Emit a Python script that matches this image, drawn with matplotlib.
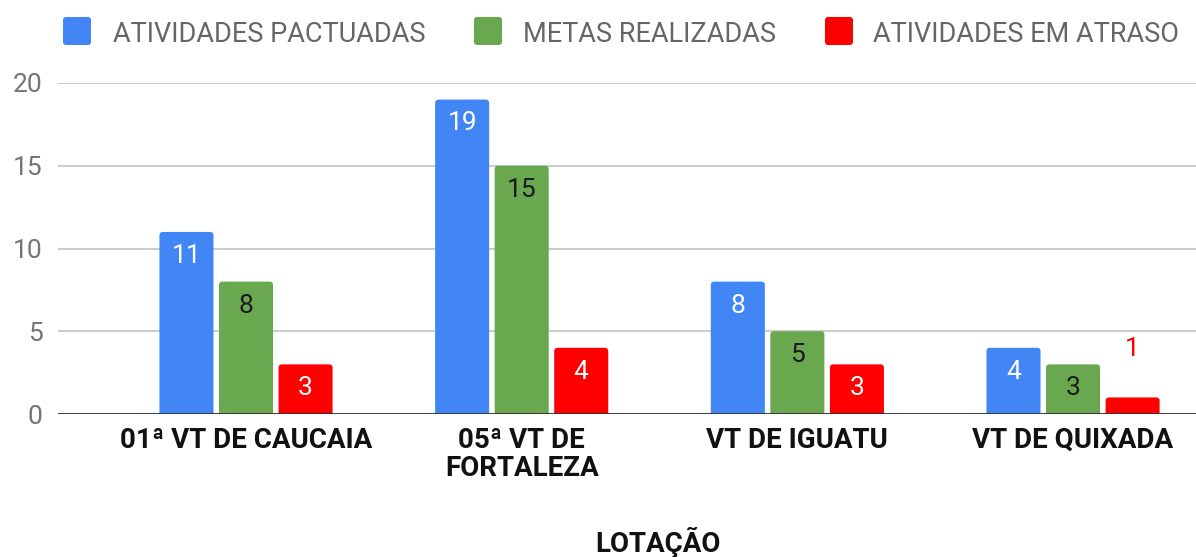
import matplotlib
matplotlib.use("Agg")
import matplotlib.pyplot as plt
from matplotlib.patches import FancyBboxPatch
import numpy as np

categories = ["01ª VT DE CAUCAIA", "05ª VT DE\nFORTALEZA", "VT DE IGUATU", "VT DE QUIXADA"]
series_names = ["ATIVIDADES PACTUADAS", "METAS REALIZADAS", "ATIVIDADES EM ATRASO"]
pactuadas = [11, 19, 8, 4]
realizadas = [8, 15, 5, 3]
atraso = [3, 4, 3, 1]
yticks = [0, 5, 10, 15, 20]

colors = ["#4285F4", "#6AA84F", "#FF0000"]
label_colors = ["white", "#1a1a1a", "white"]

plt.rcParams['font.family'] = ['Roboto', 'DejaVu Sans']

W, H = 1196, 557
fig = plt.figure(figsize=(W / 100, H / 100), dpi=100)
ax_l, ax_r, ax_b, ax_t = 58, 1196, 414, 83
ax = fig.add_axes([ax_l / W, 1 - ax_b / H, (ax_r - ax_l) / W, (ax_b - ax_t) / H])

x = np.arange(len(categories))
width = 0.196
step = 0.216
xlim = (-0.682, 3.446)
ylim = (0, 20)
ax.set_xlim(*xlim)
ax.set_ylim(*ylim)

px_x = (ax_r - ax_l) / (xlim[1] - xlim[0])
px_y = (ax_b - ax_t) / (ylim[1] - ylim[0])
r_px = 3.5
rx = r_px / px_x
aspect = (r_px / px_y) / rx

data = [pactuadas, realizadas, atraso]
for i, (vals, col, lc) in enumerate(zip(data, colors, label_colors)):
    pos = x + (i - 1) * step
    for p, v in zip(pos, vals):
        patch = FancyBboxPatch((p - width / 2, -1), width, v + 1,
                               boxstyle=f"round,pad=0,rounding_size={rx}",
                               mutation_aspect=aspect, facecolor=col,
                               edgecolor='none', zorder=3)
        ax.add_patch(patch)
        if v >= 2:
            ax.text(p, v - 0.72, str(v), ha='center', va='top', color=lc, fontsize=19, zorder=4)
        else:
            ax.text(p, v + 2.2, str(v), ha='center', va='bottom', color=col, fontsize=19, zorder=4)

ax.set_yticks(yticks)
ax.set_yticklabels([str(t) for t in yticks], color='#757575', fontsize=19)
ax.yaxis.grid(True, color='#cccccc', linewidth=1.5, zorder=0)
ax.axhline(0, color='#333333', linewidth=2, zorder=5)
for s in ax.spines.values():
    s.set_visible(False)
ax.tick_params(axis='both', length=0)
ax.tick_params(axis='y', pad=11)
ax.set_xticks(x)
ax.set_xticklabels(categories, fontsize=20, fontweight='bold', color='#111111', linespacing=1.05)
ax.tick_params(axis='x', pad=9)

fig.text(658 / W, 1 - 552 / H, "LOTAÇÃO", ha='center', va='baseline', fontsize=20,
         fontweight='bold', color='#111111')

# legend drawn manually
sq_x = [63, 474, 825]
txt_x = [113, 523, 873]
sq = 28
cy = 31
for sx, tx, col, name in zip(sq_x, txt_x, colors, series_names):
    fig.patches.append(FancyBboxPatch((sx / W, 1 - (cy + sq / 2) / H), sq / W, sq / H,
                                      boxstyle=f"round,pad=0,rounding_size={3 / W}",
                                      mutation_aspect=W / H,
                                      transform=fig.transFigure, facecolor=col,
                                      edgecolor='none'))
    fig.text(tx / W, 1 - cy / H, name, ha='left', va='center_baseline', fontsize=19.5,
             color='#666666')

fig.savefig("out.png", dpi=100)
